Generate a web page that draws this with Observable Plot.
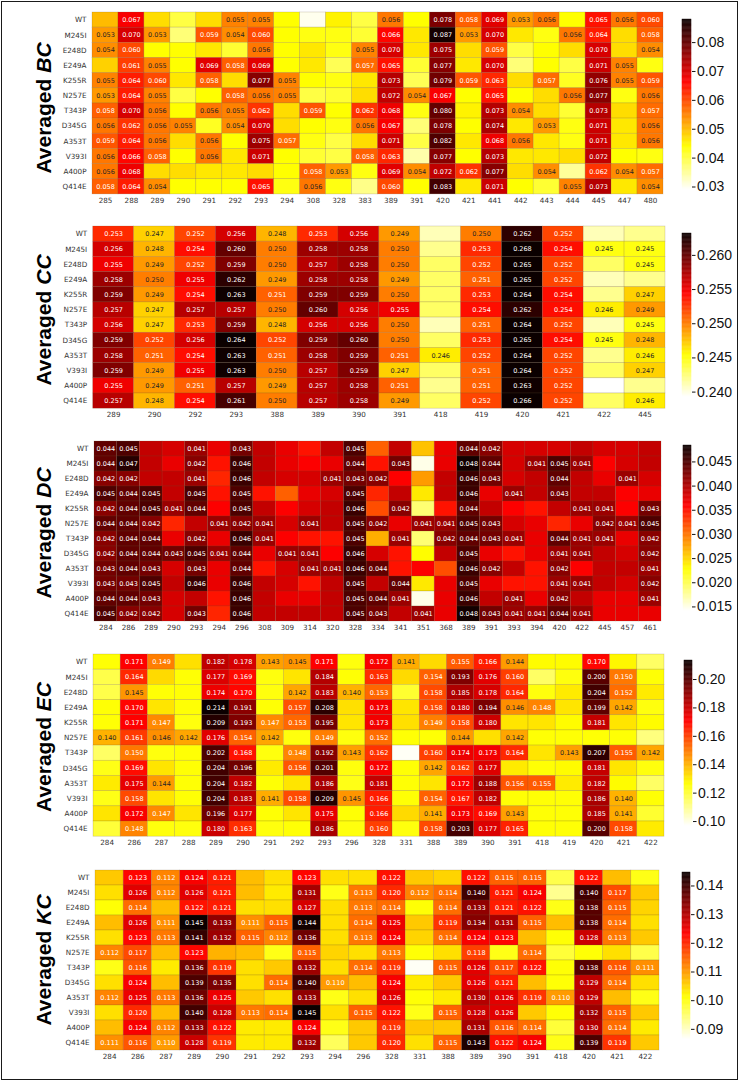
<!DOCTYPE html>
<html><head><meta charset="utf-8">
<script src="https://cdn.jsdelivr.net/npm/d3@7"></script>
<script src="https://cdn.jsdelivr.net/npm/@observablehq/plot@0.6"></script>
<style>
body{margin:0;background:#fff}
#page{position:relative;width:742px;height:1083px;overflow:hidden;background:#fff}
.frame{position:absolute;left:1px;top:1px;width:737px;height:1079px;border:1.5px solid #1a1a1a;box-sizing:border-box}
.ylab{position:absolute;font-family:"Liberation Sans",Arial,sans-serif;font-weight:bold;font-size:21px;white-space:nowrap;transform:translate(-50%,-50%) rotate(-90deg);line-height:1;color:#000}
.ylab i{font-style:italic}
#page svg{position:absolute}
</style></head>
<body><div id="page"><div class="frame"></div></div>
<script>
// ---------- data ----------
const mutants = ["WT","M245I","E248D","E249A","K255R","N257E","T343P","D345G","A353T","V393I","A400P","Q414E"];

const bcResidues = [285,288,289,290,291,292,293,294,308,328,383,389,391,420,421,441,442,443,444,445,447,480];
const bcValues = [
 [0.050,0.067,0.047,0.040,0.047,0.055,0.055,0.044,0.030,0.045,0.040,0.056,0.044,0.078,0.058,0.069,0.053,0.056,0.044,0.065,0.056,0.060],
 [0.053,0.070,0.053,0.037,0.059,0.054,0.060,0.044,0.043,0.043,0.041,0.066,0.046,0.087,0.053,0.070,0.046,0.043,0.056,0.064,0.047,0.058],
 [0.054,0.060,0.044,0.044,0.046,0.041,0.056,0.044,0.046,0.043,0.055,0.070,0.046,0.075,0.047,0.059,0.040,0.044,0.047,0.070,0.047,0.054],
 [0.048,0.061,0.055,0.044,0.069,0.058,0.069,0.044,0.046,0.039,0.057,0.065,0.041,0.077,0.046,0.070,0.037,0.044,0.040,0.071,0.055,0.043],
 [0.055,0.064,0.060,0.046,0.058,0.047,0.077,0.055,0.044,0.043,0.046,0.073,0.039,0.079,0.059,0.063,0.047,0.057,0.042,0.076,0.055,0.059],
 [0.053,0.064,0.055,0.040,0.044,0.058,0.056,0.055,0.040,0.041,0.047,0.072,0.054,0.067,0.044,0.065,0.044,0.047,0.056,0.077,0.043,0.056],
 [0.058,0.070,0.056,0.044,0.056,0.055,0.062,0.047,0.059,0.044,0.062,0.068,0.043,0.080,0.045,0.073,0.054,0.047,0.041,0.073,0.047,0.057],
 [0.056,0.062,0.056,0.055,0.042,0.054,0.070,0.047,0.044,0.043,0.056,0.067,0.037,0.078,0.044,0.074,0.046,0.053,0.043,0.071,0.046,0.056],
 [0.059,0.064,0.056,0.047,0.056,0.044,0.075,0.057,0.043,0.040,0.047,0.071,0.040,0.082,0.046,0.068,0.056,0.046,0.043,0.071,0.046,0.056],
 [0.056,0.066,0.058,0.044,0.056,0.046,0.071,0.044,0.041,0.040,0.058,0.063,0.034,0.077,0.044,0.073,0.046,0.046,0.047,0.072,0.044,0.043],
 [0.056,0.068,0.047,0.047,0.046,0.046,0.047,0.044,0.058,0.053,0.043,0.069,0.054,0.072,0.062,0.077,0.047,0.054,0.035,0.062,0.054,0.057],
 [0.058,0.064,0.054,0.044,0.044,0.044,0.065,0.043,0.056,0.043,0.036,0.060,0.044,0.083,0.046,0.071,0.044,0.041,0.055,0.073,0.046,0.054]
];
const bcColorDomain = [0.029, 0.088];
const bcTicks = [0.03,0.04,0.05,0.06,0.07,0.08];

const ccResidues = [289,290,292,293,388,389,390,391,418,419,420,421,422,445];
const ccValues = [
 [0.253,0.247,0.252,0.256,0.248,0.253,0.256,0.249,0.241,0.250,0.262,0.252,0.241,0.242],
 [0.256,0.248,0.254,0.260,0.250,0.258,0.258,0.250,0.242,0.253,0.268,0.254,0.245,0.245],
 [0.255,0.249,0.252,0.259,0.250,0.257,0.258,0.250,0.243,0.252,0.265,0.252,0.243,0.245],
 [0.258,0.250,0.255,0.262,0.249,0.258,0.258,0.249,0.243,0.251,0.265,0.252,0.241,0.242],
 [0.259,0.249,0.254,0.263,0.251,0.259,0.259,0.250,0.243,0.253,0.264,0.254,0.242,0.247],
 [0.257,0.247,0.257,0.257,0.250,0.260,0.256,0.255,0.243,0.254,0.262,0.254,0.246,0.249],
 [0.256,0.247,0.253,0.259,0.248,0.256,0.256,0.250,0.241,0.251,0.264,0.252,0.241,0.245],
 [0.259,0.252,0.256,0.264,0.252,0.259,0.260,0.250,0.243,0.253,0.265,0.254,0.245,0.248],
 [0.258,0.251,0.254,0.263,0.251,0.258,0.259,0.251,0.246,0.252,0.264,0.252,0.242,0.246],
 [0.259,0.249,0.255,0.263,0.250,0.257,0.259,0.247,0.243,0.251,0.264,0.252,0.243,0.247],
 [0.255,0.249,0.251,0.257,0.249,0.257,0.258,0.251,0.242,0.251,0.263,0.252,0.239,0.242],
 [0.257,0.248,0.254,0.261,0.250,0.257,0.258,0.249,0.243,0.252,0.266,0.252,0.243,0.246]
];
const ccColorDomain = [0.2393, 0.2632];
const ccTicks = [0.240,0.245,0.250,0.255,0.260];

const dcResidues = [284,286,289,290,293,294,296,308,309,314,320,328,334,341,351,368,389,391,393,394,420,422,445,457,461];
const dcValues = [
 [0.044,0.045,0.039,0.038,0.041,0.037,0.043,0.039,0.037,0.035,0.039,0.045,0.031,0.039,0.026,0.037,0.044,0.042,0.038,0.038,0.038,0.039,0.038,0.038,0.039],
 [0.044,0.047,0.039,0.037,0.042,0.035,0.046,0.039,0.037,0.036,0.037,0.044,0.035,0.043,0.015,0.037,0.048,0.044,0.038,0.041,0.045,0.041,0.036,0.038,0.039],
 [0.042,0.042,0.039,0.039,0.041,0.034,0.046,0.039,0.038,0.038,0.041,0.043,0.042,0.036,0.028,0.039,0.046,0.043,0.038,0.039,0.044,0.039,0.037,0.041,0.038],
 [0.045,0.044,0.045,0.039,0.045,0.035,0.045,0.035,0.031,0.037,0.038,0.045,0.034,0.039,0.024,0.039,0.046,0.037,0.041,0.039,0.043,0.039,0.039,0.036,0.037],
 [0.042,0.044,0.045,0.041,0.044,0.036,0.045,0.039,0.036,0.038,0.039,0.046,0.032,0.042,0.019,0.035,0.044,0.039,0.036,0.035,0.039,0.041,0.041,0.036,0.043],
 [0.044,0.044,0.042,0.034,0.039,0.041,0.042,0.041,0.038,0.041,0.039,0.045,0.042,0.037,0.041,0.041,0.045,0.043,0.038,0.037,0.034,0.037,0.042,0.041,0.045],
 [0.042,0.044,0.044,0.037,0.042,0.037,0.046,0.041,0.036,0.035,0.035,0.045,0.027,0.041,0.019,0.042,0.044,0.043,0.041,0.037,0.044,0.041,0.041,0.037,0.042],
 [0.042,0.044,0.044,0.043,0.045,0.041,0.044,0.037,0.041,0.041,0.036,0.046,0.038,0.035,0.023,0.039,0.045,0.037,0.035,0.037,0.041,0.041,0.039,0.038,0.042],
 [0.043,0.044,0.043,0.038,0.043,0.037,0.044,0.035,0.038,0.041,0.041,0.046,0.044,0.035,0.036,0.032,0.046,0.042,0.039,0.035,0.042,0.036,0.039,0.039,0.041],
 [0.043,0.043,0.045,0.039,0.046,0.037,0.046,0.039,0.038,0.035,0.039,0.045,0.039,0.044,0.024,0.037,0.045,0.037,0.035,0.035,0.041,0.041,0.039,0.038,0.042],
 [0.044,0.044,0.043,0.038,0.039,0.035,0.046,0.039,0.037,0.037,0.039,0.045,0.044,0.041,0.015,0.037,0.046,0.039,0.041,0.037,0.042,0.039,0.037,0.037,0.041],
 [0.045,0.042,0.042,0.038,0.043,0.034,0.046,0.039,0.039,0.039,0.039,0.045,0.043,0.039,0.041,0.037,0.048,0.043,0.041,0.041,0.044,0.041,0.037,0.037,0.037]
];
const dcColorDomain = [0.0142, 0.0484];
const dcTicks = [0.015,0.020,0.025,0.030,0.035,0.040,0.045];

const ecResidues = [284,286,287,288,289,290,291,292,293,296,328,331,388,389,390,391,418,419,420,421,422];
const ecValues = [
 [0.126,0.171,0.149,0.132,0.182,0.178,0.143,0.145,0.171,0.125,0.172,0.141,0.133,0.155,0.166,0.144,0.127,0.127,0.170,0.128,0.115],
 [0.118,0.164,0.133,0.126,0.177,0.169,0.125,0.131,0.184,0.126,0.163,0.133,0.154,0.193,0.176,0.160,0.115,0.125,0.200,0.150,0.126],
 [0.118,0.145,0.126,0.126,0.174,0.170,0.125,0.142,0.183,0.140,0.153,0.121,0.158,0.185,0.178,0.164,0.125,0.130,0.204,0.152,0.130],
 [0.126,0.170,0.131,0.126,0.214,0.191,0.126,0.157,0.208,0.132,0.173,0.131,0.158,0.180,0.194,0.146,0.148,0.131,0.199,0.142,0.125],
 [0.126,0.171,0.147,0.125,0.209,0.193,0.147,0.153,0.195,0.131,0.173,0.132,0.149,0.158,0.180,0.131,0.131,0.127,0.181,0.131,0.127],
 [0.140,0.161,0.146,0.142,0.176,0.154,0.142,0.125,0.149,0.125,0.152,0.126,0.126,0.144,0.132,0.142,0.126,0.126,0.126,0.126,0.112],
 [0.115,0.150,0.125,0.126,0.202,0.168,0.125,0.148,0.192,0.143,0.162,0.098,0.160,0.174,0.173,0.164,0.131,0.143,0.207,0.155,0.142],
 [0.124,0.169,0.131,0.126,0.204,0.196,0.130,0.156,0.201,0.125,0.172,0.126,0.142,0.162,0.177,0.130,0.126,0.127,0.181,0.131,0.125],
 [0.130,0.175,0.144,0.126,0.204,0.182,0.126,0.131,0.186,0.124,0.181,0.126,0.131,0.172,0.188,0.156,0.155,0.130,0.182,0.127,0.115],
 [0.124,0.158,0.131,0.126,0.204,0.183,0.141,0.158,0.209,0.145,0.166,0.126,0.154,0.167,0.182,0.126,0.126,0.126,0.186,0.140,0.126],
 [0.131,0.172,0.147,0.131,0.196,0.177,0.126,0.131,0.175,0.126,0.166,0.133,0.141,0.173,0.169,0.143,0.126,0.126,0.185,0.141,0.121],
 [0.120,0.148,0.125,0.125,0.180,0.163,0.125,0.126,0.186,0.125,0.160,0.125,0.158,0.203,0.177,0.165,0.126,0.126,0.200,0.158,0.130]
];
const ecColorDomain = [0.097, 0.2134];
const ecTicks = [0.10,0.12,0.14,0.16,0.18,0.20];

const kcResidues = [284,286,287,289,290,291,292,293,294,296,328,331,388,389,390,391,418,420,421,422];
const kcValues = [
 [0.106,0.123,0.112,0.124,0.121,0.107,0.104,0.123,0.104,0.104,0.122,0.106,0.105,0.122,0.115,0.115,0.097,0.122,0.107,0.100],
 [0.104,0.126,0.112,0.126,0.121,0.107,0.103,0.131,0.100,0.113,0.120,0.112,0.114,0.140,0.121,0.124,0.093,0.140,0.117,0.106],
 [0.101,0.114,0.107,0.122,0.121,0.104,0.104,0.127,0.104,0.113,0.114,0.101,0.114,0.133,0.121,0.122,0.100,0.138,0.115,0.105],
 [0.107,0.126,0.111,0.145,0.133,0.111,0.115,0.144,0.104,0.114,0.125,0.106,0.119,0.134,0.131,0.115,0.107,0.138,0.114,0.104],
 [0.104,0.123,0.113,0.141,0.132,0.115,0.112,0.136,0.104,0.113,0.124,0.105,0.114,0.124,0.123,0.107,0.101,0.128,0.113,0.106],
 [0.112,0.117,0.107,0.123,0.108,0.107,0.100,0.115,0.105,0.104,0.113,0.101,0.104,0.118,0.100,0.114,0.098,0.101,0.104,0.097],
 [0.100,0.116,0.103,0.136,0.119,0.104,0.106,0.132,0.104,0.114,0.119,0.087,0.115,0.126,0.117,0.122,0.101,0.138,0.116,0.111],
 [0.104,0.124,0.107,0.139,0.135,0.104,0.114,0.140,0.110,0.107,0.124,0.103,0.106,0.126,0.121,0.107,0.101,0.129,0.114,0.104],
 [0.112,0.125,0.113,0.136,0.125,0.106,0.104,0.133,0.100,0.104,0.126,0.101,0.103,0.130,0.126,0.119,0.110,0.129,0.107,0.100],
 [0.104,0.120,0.107,0.140,0.128,0.113,0.114,0.145,0.104,0.115,0.122,0.100,0.115,0.128,0.126,0.106,0.101,0.132,0.115,0.106],
 [0.107,0.124,0.112,0.133,0.122,0.103,0.103,0.124,0.100,0.106,0.119,0.106,0.106,0.131,0.116,0.114,0.098,0.130,0.114,0.103],
 [0.111,0.116,0.110,0.128,0.119,0.103,0.103,0.132,0.096,0.106,0.120,0.104,0.115,0.143,0.122,0.124,0.100,0.139,0.119,0.106]
];
const kcColorDomain = [0.0865, 0.1447];
const kcTicks = [0.09,0.10,0.11,0.12,0.13,0.14];

// ---------- colormap (matplotlib hot, reversed) ----------
function hotR(t) {
  t = Math.max(0, Math.min(1, t));
  const s = 1 - t;
  const r = s < 0.365079 ? 0.0416 + (1 - 0.0416) * s / 0.365079 : 1;
  const g = s < 0.365079 ? 0 : s < 0.746032 ? (s - 0.365079) / (0.746032 - 0.365079) : 1;
  const b = s < 0.746032 ? 0 : (s - 0.746032) / (1 - 0.746032);
  return d3.rgb(r * 255, g * 255, b * 255).formatHex();
}

// ---------- panels ----------
const panels = [
  {name: "BC", residues: bcResidues, values: bcValues, domain: bcColorDomain, ticks: bcTicks, fmt: d => d.toFixed(2),
   labelMin: 0.0525, whiteMin: 0.0565, frame: [92, 663, 12.4, 194.3], bar: [682, 691, 19.2, 189.6], labY: 107.5},
  {name: "CC", residues: ccResidues, values: ccValues, domain: ccColorDomain, ticks: ccTicks, fmt: d => d.toFixed(3),
   labelMin: 0.2447, whiteMin: 0.2505, frame: [92.7, 665, 226.4, 408.6], bar: [682, 691, 233.1, 396.5], labY: 320},
  {name: "DC", residues: dcResidues, values: dcValues, domain: dcColorDomain, ticks: dcTicks, fmt: d => d.toFixed(3),
   labelMin: 0.0405, whiteMin: 0, frame: [94, 661, 441, 621], bar: [683, 691, 444.6, 609.9], labY: 533},
  {name: "EC", residues: ecResidues, values: ecValues, domain: ecColorDomain, ticks: ecTicks, fmt: d => d.toFixed(2),
   labelMin: 0.1395, whiteMin: 0.1468, frame: [93, 664, 654.4, 836.6], bar: [684, 692, 660, 825.3], labY: 746.7},
  {name: "KC", residues: kcResidues, values: kcValues, domain: kcColorDomain, ticks: kcTicks, fmt: d => d.toFixed(2),
   labelMin: 0.1095, whiteMin: 0.1, frame: [95, 659, 870, 1050], bar: [682, 690, 871.5, 1038.4], labY: 960}
];

const page = document.getElementById("page");

for (const p of panels) {
  const cells = [];
  mutants.forEach((m, i) => p.residues.forEach((r, j) => cells.push({mut: m, res: String(r), v: p.values[i][j]})));
  const labeled = cells.filter(d => d.v >= p.labelMin);
  const color = {type: "linear", domain: p.domain, clamp: true, interpolate: hotR};
  const [x0, x1, y0, y1] = p.frame;
  const mt = 3, mb = 18;
  const heat = Plot.plot({
    width: 742,
    height: (y1 - y0) + mt + mb,
    marginLeft: x0, marginRight: 742 - x1, marginTop: mt, marginBottom: mb,
    x: {domain: p.residues.map(String), padding: 0, round: false, label: null, tickSize: 0, tickPadding: 3},
    y: {domain: mutants, padding: 0, round: false, label: null, tickSize: 0, tickPadding: 6},
    color,
    style: {background: "transparent", fontFamily: "DejaVu Sans, sans-serif", fontSize: "7.2px", color: "#333", overflow: "visible"},
    marks: [
      Plot.cell(cells, {x: "res", y: "mut", fill: "v", stroke: "#6b5030", strokeOpacity: 0.3, strokeWidth: 0.6}),
      Plot.text(labeled.filter(d => d.v < p.whiteMin), {x: "res", y: "mut", text: d => d.v.toFixed(3), fill: "#262626", fontSize: 6.5}),
      Plot.text(labeled.filter(d => d.v >= p.whiteMin), {x: "res", y: "mut", text: d => d.v.toFixed(3), fill: "white", fontSize: 6.5})
    ]
  });
  heat.style.left = "0px";
  heat.style.top = (y0 - mt) + "px";
  page.appendChild(heat);

  // colorbar
  const [bx0, bx1, by0, by1] = p.bar;
  const n = 200;
  const step = (p.domain[1] - p.domain[0]) / n;
  const steps = d3.range(n).map(i => p.domain[0] + step * i);
  const bw = bx1 - bx0;
  const bar = Plot.plot({
    width: 1 + bw + 55,
    height: (by1 - by0) + 12,
    marginLeft: 1, marginRight: 55, marginTop: 6, marginBottom: 6,
    x: {domain: [0, 1], axis: null},
    y: {domain: p.domain, label: null},
    color,
    style: {background: "transparent", fontFamily: "Liberation Sans, Arial, sans-serif", fontSize: "14px", color: "#111", overflow: "visible"},
    marks: [
      Plot.rect(steps, {x1: 0, x2: 1, y1: d => d, y2: d => d + step, fill: d => d + step / 2, stroke: d => d + step / 2, strokeWidth: 0.4}),
      Plot.axisY(p.ticks, {anchor: "right", tickSize: 3.5, tickPadding: 2, tickFormat: p.fmt, label: null})
    ]
  });
  bar.style.left = (bx0 - 1) + "px";
  bar.style.top = (by0 - 6) + "px";
  page.appendChild(bar);

  const lab = document.createElement("div");
  lab.className = "ylab";
  lab.innerHTML = "Averaged <i>" + p.name + "</i>";
  lab.style.left = "43px";
  lab.style.top = p.labY + "px";
  page.appendChild(lab);
}
</script>
</body></html>
